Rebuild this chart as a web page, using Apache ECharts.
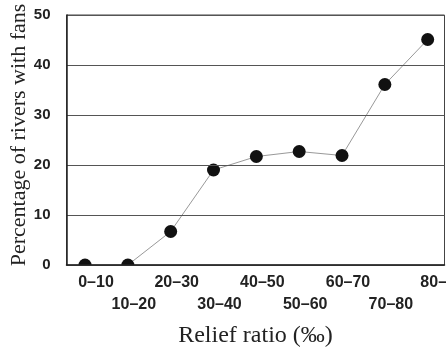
<!DOCTYPE html>
<html>
<head>
<meta charset="utf-8">
<script src="https://cdn.jsdelivr.net/npm/echarts@6/dist/echarts.min.js"></script>
<style>html,body{margin:0;padding:0;background:#fff}#c{width:446px;height:347px}</style>
</head>
<body>
<div id="c"></div>
<script>
const categories = ['0–10','10–20','20–30','30–40','40–50','50–60','60–70','70–80','80–'];
const percentWithFans = [0, 0, 6.7, 19, 21.7, 22.7, 21.9, 36.1, 45.1];
const yTicks = [0, 10, 20, 30, 40, 50];
const yTitle = 'Percentage of rivers with fans';
const xTitle = 'Relief ratio (‰)';

const chart = echarts.init(document.getElementById('c'), null, {renderer:'canvas'});
const tickFont = {fontFamily:'Liberation Sans', fontWeight:'bold', color:'#222'};
const option = {
  animation:false,
  backgroundColor:'#fff',
  grid:[
    {left:66.5, right:1.5, top:15, bottom:82, show:true, borderColor:'#444', borderWidth:1, backgroundColor:'transparent', containLabel:false, outerBoundsMode:'none'},
    {left:63.6, width:385.5, top:15, bottom:82, containLabel:false, outerBoundsMode:'none'}
  ],
  xAxis:[
    {gridIndex:0, type:'category', data:categories, boundaryGap:true, z:10,
     axisLine:{show:true, lineStyle:{color:'#222', width:1.5}}, axisTick:{show:false}, axisLabel:{show:false},
     name:xTitle, nameLocation:'middle', nameGap:59, nameMoveOverlap:false,
     nameTextStyle:{fontFamily:'Liberation Serif', fontSize:24, color:'#222'}},
    {gridIndex:1, type:'category', data:categories, boundaryGap:true, z:10,
     axisLine:{show:false}, axisTick:{show:false},
     axisLabel:{show:true, interval:0, margin:10, hideOverlap:false,
       formatter:(v,i)=> i===0 ? '{a|'+v+'}' : (i%2===0 ? '{b|'+v+'}' : '{c|'+v+'}'),
       rich:{
         a:Object.assign({fontSize:16, padding:[0,0,0,22]}, tickFont),
         b:Object.assign({fontSize:16, padding:[0,0,0,12]}, tickFont),
         c:Object.assign({fontSize:16, padding:[22,0,0,12]}, tickFont)
       }}}
  ],
  yAxis:[
    {gridIndex:0, type:'value', min:yTicks[0], max:yTicks[yTicks.length-1], interval:10, z:10,
     axisLine:{show:true, lineStyle:{color:'#222', width:1.5}}, axisTick:{show:false},
     axisLabel:Object.assign({fontSize:15, margin:16}, tickFont),
     splitLine:{show:true, lineStyle:{color:'#555', width:1}},
     name:yTitle, nameLocation:'middle', nameGap:36, nameRotate:90, nameMoveOverlap:false,
     nameTextStyle:{fontFamily:'Liberation Serif', fontSize:22, color:'#222', padding:[0,0,0,10]}},
    {gridIndex:1, type:'value', min:0, max:50, show:false}
  ],
  series:[{
    type:'line', xAxisIndex:1, yAxisIndex:1, data:percentWithFans,
    symbol:'circle', symbolSize:13,
    itemStyle:{color:'#111'},
    lineStyle:{color:'#999', width:1},
    clip:false
  }]
};
chart.setOption(option);
// white mask below the plot floor so markers sitting on 0 show only their upper half
const floorY = chart.convertToPixel({yAxisIndex:0}, 0);
chart.setOption({graphic:[{type:'rect', z:5, silent:true,
  shape:{x:0, y:floorY, width:chart.getWidth(), height:chart.getHeight()-floorY},
  style:{fill:'#fff'}}]});
</script>
</body>
</html>
